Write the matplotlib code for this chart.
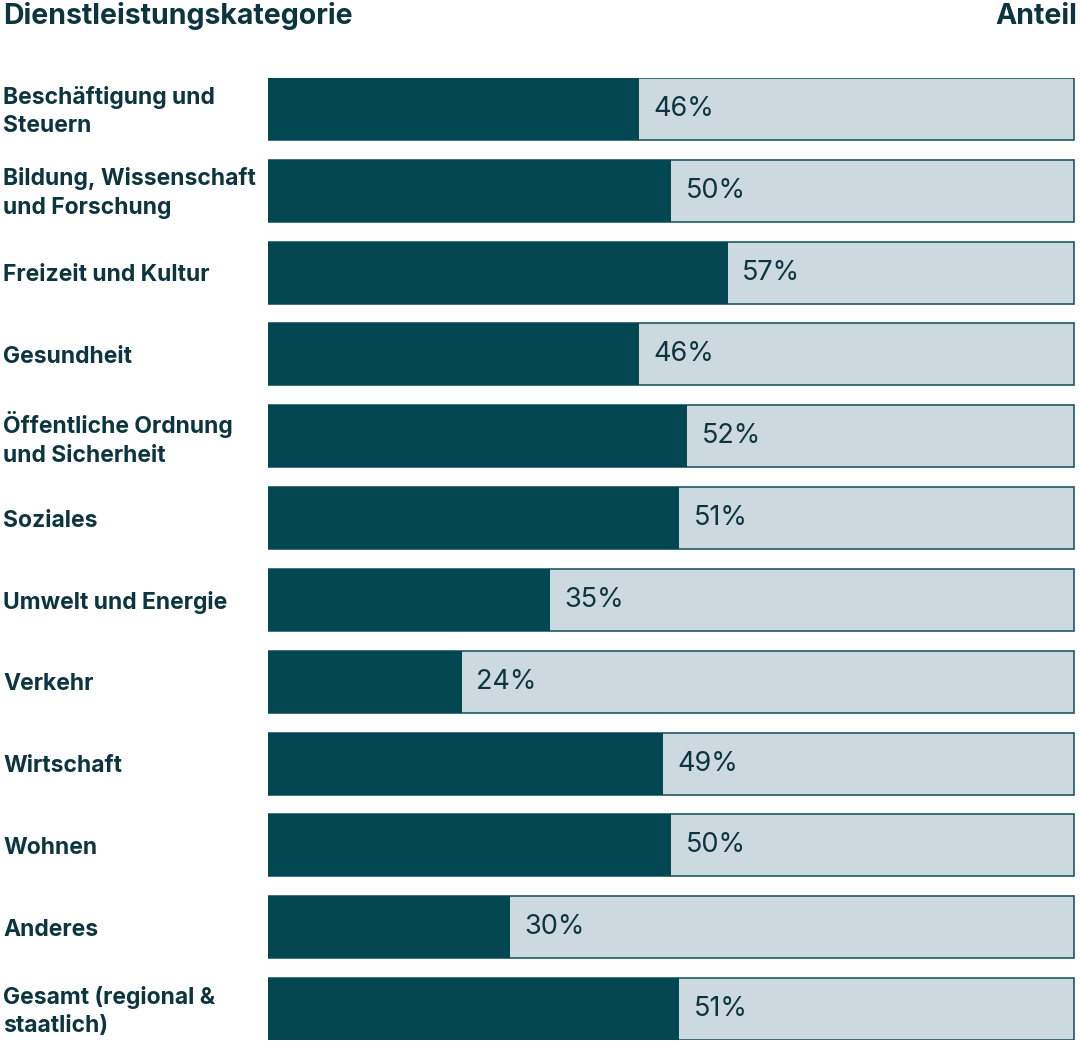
import matplotlib
matplotlib.use("Agg")
import matplotlib.pyplot as plt

categories = [
    "Beschäftigung und\nSteuern",
    "Bildung, Wissenschaft\nund Forschung",
    "Freizeit und Kultur",
    "Gesundheit",
    "Öffentliche Ordnung\nund Sicherheit",
    "Soziales",
    "Umwelt und Energie",
    "Verkehr",
    "Wirtschaft",
    "Wohnen",
    "Anderes",
    "Gesamt (regional &\nstaatlich)",
]
values = [46, 50, 57, 46, 52, 51, 35, 24, 49, 50, 30, 51]
value_labels = [f"{v}%" for v in values]
track_max = 100

DARK = "#024751"
LIGHT = "#ccd9de"
EDGE = "#1d5a63"
TEXT = "#0d3540"

plt.rcParams['font.family'] = ['Inter', 'DejaVu Sans']

fig = plt.figure(figsize=(10.8, 10.44), dpi=100)
W, H = 1080, 1044
ax = fig.add_axes([268 / W, 4 / H, (1076 - 268) / W, (1040 - 78) / H])

h = 0.758
n = len(categories)
ypos = list(range(n))

ax.barh(ypos, [track_max] * n, height=h, left=0, color=LIGHT,
        edgecolor=EDGE, linewidth=1.2, zorder=1)
ax.barh(ypos, values, height=h, left=0, color=DARK, edgecolor="none", zorder=2)

for y, v, lab in zip(ypos, values, value_labels):
    ax.text(v + 1.8, y, lab, va="center", ha="left", fontsize=19.5,
            color=TEXT, zorder=3)

ax.set_xlim(0, track_max + 0.2)
ax.set_ylim(n - 1 + h / 2, -h / 2)
ax.axis("off")

# category labels in figure coords
for y, cat in zip(ypos, categories):
    disp = ax.transData.transform((0, y))
    fy = fig.transFigure.inverted().transform(disp)[1] - 2.5 / H
    fig.text(3 / W, fy, cat, ha="left", va="center", fontsize=16.5,
             fontweight="bold", color=TEXT, linespacing=1.4)

fig.text(3 / W, 1 - 16 / H, "Dienstleistungskategorie", ha="left", va="center",
         fontsize=20.5, fontweight="bold", color=TEXT)
fig.text(1077 / W, 1 - 16 / H, "Anteil", ha="right", va="center",
         fontsize=20.5, fontweight="bold", color=TEXT)

fig.savefig("out.png", dpi=100, facecolor="white")
